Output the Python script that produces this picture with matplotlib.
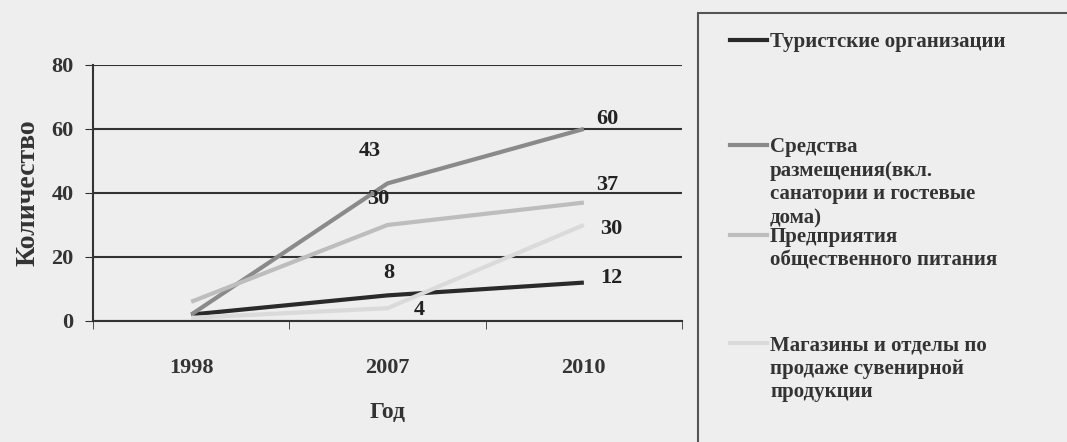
import matplotlib.pyplot as plt
from matplotlib.lines import Line2D
from matplotlib.patches import Rectangle

years = ["1998", "2007", "2010"]
tour_org = [2, 8, 12]
lodging = [2, 43, 60]
catering = [6, 30, 37]
shops = [1, 4, 30]

series_names = [
    "Туристские организации",
    "Средства\nразмещения(вкл.\nсанатории и гостевые\nдома)",
    "Предприятия\nобщественного питания",
    "Магазины и отделы по\nпродаже сувенирной\nпродукции",
]
series_colors = ["#2a2a2a", "#8a8a8a", "#bdbdbd", "#dadada"]

plt.rcParams['font.family'] = ['Liberation Serif', 'DejaVu Serif']
bg = "#eeeeee"
ink = "#333333"

fig = plt.figure(figsize=(10.67, 4.42), dpi=100, facecolor=bg)
ax = fig.add_axes([0.0872, 0.2738, 0.5520, 0.5792], facecolor=bg)

x = list(range(len(years)))
all_series = [tour_org, lodging, catering, shops]
for vals, col in zip(all_series, series_colors):
    ax.plot(x, vals, color=col, lw=3, solid_capstyle='butt')

# подписи данных для 2007 и 2010
lbl = dict(fontsize=16, fontweight='bold', color='#222222', ha='center', va='center',
           textcoords='offset points')
ax.annotate(str(lodging[1]), (1, lodging[1]), xytext=(-13, 23), **lbl)
ax.annotate(str(catering[1]), (1, catering[1]), xytext=(-7, 19), **lbl)
ax.annotate(str(tour_org[1]), (1, tour_org[1]), xytext=(1, 16), **lbl)
ax.annotate(str(shops[1]), (1, shops[1]), xytext=(23, -1), **lbl)
ax.annotate(str(lodging[2]), (2, lodging[2]), xytext=(17, 7), **lbl)
ax.annotate(str(catering[2]), (2, catering[2]), xytext=(17, 13), **lbl)
ax.annotate(str(shops[2]), (2, shops[2]), xytext=(20, -3), **lbl)
ax.annotate(str(tour_org[2]), (2, tour_org[2]), xytext=(20, 3), **lbl)

ax.set_xlim(-0.5, 2.5)
ax.set_ylim(0, 80)
ax.set_yticks([0, 20, 40, 60, 80])
ax.set_xticks(x)
ax.set_xticklabels(years)
ax.set_xticks([-0.5, 0.5, 1.5, 2.5], minor=True)
ax.tick_params(axis='x', which='major', length=0, pad=27, labelsize=16)
ax.tick_params(axis='x', which='minor', length=6, direction='out', color=ink)
ax.tick_params(axis='y', length=6, direction='out', labelsize=16, pad=8, color=ink)
for t in ax.get_xticklabels() + ax.get_yticklabels():
    t.set_fontweight('bold')
    t.set_color(ink)
ax.grid(axis='y', color=ink, lw=1.5)
ax.set_axisbelow(True)
for s in ['top', 'right']:
    ax.spines[s].set_visible(False)
for s in ['left', 'bottom']:
    ax.spines[s].set_color(ink)
    ax.spines[s].set_linewidth(1.5)

ax.set_ylabel("Количество", fontsize=20, fontweight='bold', color=ink, labelpad=8)
ax.set_xlabel("Год", fontsize=17, fontweight='bold', color=ink, labelpad=17)

# рамка легенды справа
fig.patches.append(Rectangle((698 / 1067, -0.05), 0.4, 1 - 13 / 442 + 0.05,
                             transform=fig.transFigure, fill=False,
                             edgecolor='#555555', lw=1.5))
legend_y = [40, 145, 235, 343]
for name, col, yy in zip(series_names, series_colors, legend_y):
    yf = 1 - yy / 442
    fig.add_artist(Line2D([730 / 1067, 767 / 1067], [yf, yf], color=col, lw=3,
                          transform=fig.transFigure))
    fig.text(770 / 1067, 1 - (yy - 8) / 442, name, ha='left', va='top', fontsize=15,
             fontweight='bold', color=ink, linespacing=1.25,
             transform=fig.transFigure)

fig.savefig("out.png", dpi=100, facecolor=bg)
